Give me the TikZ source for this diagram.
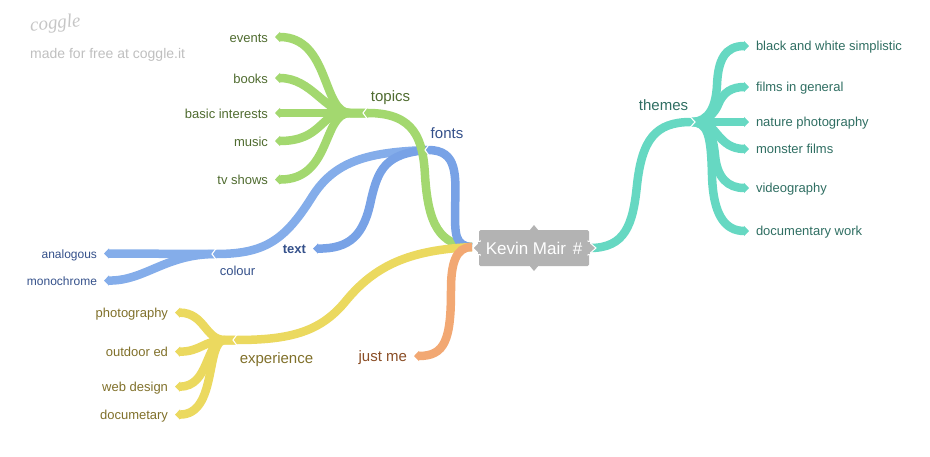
\documentclass[tikz,border=0pt]{standalone}
\usepackage{fontspec}
\setmainfont{Liberation Sans}
\newfontfamily\logofont{Liberation Serif}
\usetikzlibrary{arrows.meta}
\definecolor{cgreen}{HTML}{A3D86F}
\definecolor{tgreen}{HTML}{4F6B2F}
\definecolor{cblue}{HTML}{78A2E6}
\definecolor{cblueL}{HTML}{84ADEA}
\definecolor{tblue}{HTML}{34508A}
\definecolor{cyellow}{HTML}{EBD95F}
\definecolor{tyellow}{HTML}{80702A}
\definecolor{corange}{HTML}{F2A873}
\definecolor{torange}{HTML}{8A4D25}
\definecolor{cteal}{HTML}{66D8C2}
\definecolor{tteal}{HTML}{2F6E62}
\definecolor{cgray}{HTML}{B3B3B3}
\tikzset{
  x=1pt,y=-1pt,
  branch/.style={line width=8.5pt,line cap=butt},
  tipped/.style={branch,-{Triangle[length=5pt,width=10pt]}},
  notch/.style={white,line width=1.1pt,line join=miter},
  lbl/.style={inner sep=0pt,text height=12.5pt,text depth=2.5pt,font=\fontsize{13}{15}\selectfont},
  leafw/.style={lbl,anchor=east,outer xsep=7pt},
  leafe/.style={lbl,anchor=west,outer xsep=7pt,text height=10.5pt},
  biglbl/.style={lbl,font=\fontsize{15}{17}\selectfont,text height=13pt},
  smalllbl/.style={leafw,font=\fontsize{12}{14}\selectfont},
}
\begin{document}
\begin{tikzpicture}
\useasboundingbox (0,0) rectangle (930,456);
% hubs
\coordinate (jtopics) at (368,113);
\coordinate (jfonts) at (428,150);
\coordinate (jcolour) at (216,254);
\coordinate (jexp) at (236,340);
\coordinate (jthemes) at (691,122);
\coordinate (cl) at (472,247);
\coordinate (cr) at (590,248);
% centre
\node[fill=cgray,rounded corners=1.5pt,minimum width=110pt,minimum height=36pt,inner sep=0pt,text=white,font=\fontsize{17}{19}\selectfont] (centre) at (534,248) {Kevin Mair\hspace{2pt} \#};
% leaves
\node[leafw,text=tgreen] (events) at (275,37) {events};
\node[leafw,text=tgreen] (books) at (275,78) {books};
\node[leafw,text=tgreen] (basic) at (275,113) {basic interests};
\node[leafw,text=tgreen] (music) at (275,141) {music};
\node[leafw,text=tgreen] (tv) at (275,179.5) {tv shows};
\node[smalllbl,text=tblue] (analogous) at (104,253.5) {analogous};
\node[smalllbl,text=tblue] (mono) at (104,280.5) {monochrome};
\node[leafw,text=tyellow] (photo) at (175,312.5) {photography};
\node[leafw,text=tyellow] (outdoor) at (175,351.5) {outdoor ed};
\node[leafw,text=tyellow] (web) at (175,386.5) {web design};
\node[leafw,text=tyellow] (docu) at (175,414.5) {documetary};
\node[leafe,text=tteal] (bw) at (749,46) {black and white simplistic};
\node[leafe,text=tteal] (films) at (749,87) {films in general};
\node[leafe,text=tteal] (nature) at (749,122) {nature photography};
\node[leafe,text=tteal] (monster) at (749,149) {monster films};
\node[leafe,text=tteal] (video) at (749,188) {videography};
\node[leafe,text=tteal] (docwork) at (749,231) {documentary work};
\node[biglbl,text=tgreen] (topics) at (390.5,96) {topics};
\node[biglbl,text=tblue] (fonts) at (447,133) {fonts};
\node[lbl,text=tblue] (colour) at (237.5,270.5) {colour};
\node[lbl,text=tblue,anchor=east,outer xsep=7pt,font=\fontsize{13}{15}\selectfont\bfseries] (textn) at (313,248.5) {text};
\node[biglbl,text=tyellow] (exp) at (276.5,358) {experience};
\node[biglbl,text=torange,anchor=east,outer xsep=7pt] (justme) at (414,356) {just me};
\node[biglbl,text=tteal] (themes) at (663.5,105) {themes};
% second level: green
\draw[tipped,cgreen] (jtopics) -- (350,113) .. controls (322,113) and (330,37) .. (events.east);
\draw[tipped,cgreen] (jtopics) -- (350,113) .. controls (325,113) and (312,78) .. (books.east);
\draw[tipped,cgreen] (jtopics) -- (basic.east);
\draw[tipped,cgreen] (jtopics) -- (345,113) .. controls (320,113) and (322,141) .. (music.east);
\draw[tipped,cgreen] (jtopics) -- (350,113) .. controls (322,113) and (332,180) .. (tv.east);
% blue
\draw[tipped,cblueL] (jcolour) -- (analogous.east);
\draw[tipped,cblueL] (jcolour) .. controls (165,254) and (145,281) .. (mono.east);
% yellow
\draw[tipped,cyellow] (jexp) -- (225,340) .. controls (205,340) and (205,313) .. (photo.east);
\draw[tipped,cyellow] (jexp) -- (225,340) .. controls (205,340) and (200,352) .. (outdoor.east);
\draw[tipped,cyellow] (jexp) -- (225,340) .. controls (205,340) and (210,387) .. (web.east);
\draw[tipped,cyellow] (jexp) -- (225,340) .. controls (205,340) and (218,415) .. (docu.east);
% teal
\draw[tipped,cteal] (jthemes) .. controls (710,122) and (716,105) .. (717,85) .. controls (718,60) and (725,46) .. (bw.west);
\draw[tipped,cteal] (jthemes) .. controls (708,122) and (715,112) .. (718,105) .. controls (723,92) and (732,87) .. (films.west);
\draw[tipped,cteal] (jthemes) -- (nature.west);
\draw[tipped,cteal] (jthemes) -- (700,122) .. controls (716,122) and (718,149) .. (monster.west);
\draw[tipped,cteal] (jthemes) .. controls (708,122) and (713,135) .. (715,155) .. controls (717,178) and (728,188) .. (video.west);
\draw[tipped,cteal] (jthemes) .. controls (708,122) and (711,135) .. (712,175) .. controls (713,215) and (725,231) .. (docwork.west);
% first level
\draw[branch,cblueL] (jfonts) .. controls (370,152) and (335,160) .. (312,197) .. controls (285,240) and (265,254) .. (jcolour);
\draw[tipped,cblue] (jfonts) .. controls (385,153) and (378,170) .. (371,200) .. controls (364,235) and (350,249) .. (textn.east);
\draw[branch,cgreen] (cl) .. controls (440,245) and (428,225) .. (425,175) .. controls (423,140) and (415,113) .. (jtopics);
\draw[branch,cblue] (cl) .. controls (455,246) and (455,235) .. (455,210) .. controls (456,175) and (458,150) .. (jfonts);
\draw[branch,cyellow] (cl) .. controls (410,250) and (375,265) .. (345,302) .. controls (320,332) and (290,340) .. (jexp);
\draw[tipped,corange] (cl) .. controls (455,247) and (451,265) .. (451,290) .. controls (451,340) and (445,356) .. (justme.east);
\draw[branch,cteal] (cr) .. controls (625,248) and (633,225) .. (637,185) .. controls (642,140) and (655,122) .. (jthemes);
% hub notches
\draw[notch] (367,107.5) -- (363,113) -- (367,118.5);
\draw[notch] (429,144.5) -- (425,150) -- (429,155.5);
\draw[notch] (216,248.5) -- (212,254) -- (216,259.5);
\draw[notch] (237,334.5) -- (233,340) -- (237,345.5);
\draw[notch] (690,116.5) -- (695,122) -- (690,127.5);
% centre pointers
\fill[cgray] (529,231) -- (534,225) -- (539,231) -- cycle;
\fill[cgray] (529,265) -- (534,271) -- (539,265) -- cycle;
\fill[cgray,draw=white,line width=1pt] (480,241) -- (473,248) -- (480,255) -- cycle;
\fill[cgray,draw=white,line width=1pt] (588,241) -- (596,248) -- (588,255) -- cycle;
\fill[cgray] (478,242) rectangle (481,254);
\fill[cgray] (587,242) rectangle (590,254);
% logo
\node[text=gray!45,inner sep=0pt,anchor=west,rotate=6,font=\logofont\itshape\fontsize{19}{21}\selectfont] (logo) at (30,27) {coggle};
\node[text=gray!50,inner sep=0pt,anchor=west,font=\fontsize{14}{16}\selectfont] (made) at (30,55) {made for free at coggle.it};
\end{tikzpicture}
\end{document}
